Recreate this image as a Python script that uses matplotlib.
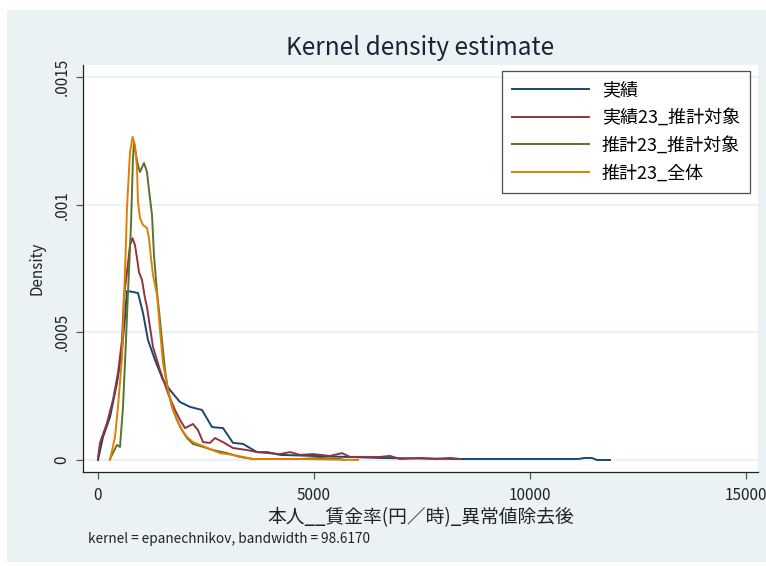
import matplotlib
matplotlib.use("Agg")
import matplotlib.pyplot as plt
from matplotlib.patches import Rectangle

plt.rcParams['font.family'] = ['Noto Sans CJK JP', 'DejaVu Sans']

BG = "#eaf2f3"
NAVY = "#1a476f"
MAROON = "#90353b"
GREEN = "#55752f"
ORANGE = "#e37e00"

# kernel density curves
x_jisseki = [0, 116, 278, 440, 556, 625, 671, 810, 926, 1042, 1157, 1319, 1505, 1667,
             1898, 2130, 2407, 2639, 2894, 3125, 3356, 3681, 3912, 4213, 4977, 5764,
             6528, 8380, 11111, 11273, 11435, 11551, 11852]
y_jisseki = [0.0, 0.000090, 0.000168, 0.000302, 0.000431, 0.000560, 0.000662, 0.000658,
             0.000654, 0.000576, 0.000470, 0.000392, 0.000313, 0.000274, 0.000227,
             0.000208, 0.000196, 0.000129, 0.000125, 0.000067, 0.000063, 0.000031,
             0.000031, 0.000020, 0.000016, 0.000012, 0.000008, 0.000004, 0.000004,
             0.000008, 0.000008, 0.0, 0.0]

x_j23 = [0, 46, 208, 347, 463, 556, 602, 671, 741, 799, 856, 903, 949, 1019, 1088, 1134,
         1273, 1435, 1620, 1782, 1898, 2014, 2199, 2315, 2431, 2593, 2708, 2894, 3125,
         3449, 3681, 4213, 4444, 4676, 4977, 5370, 5648, 5833, 6528, 6759, 6991, 7454,
         7801, 8148, 8380]
y_j23 = [0.000008, 0.000067, 0.000145, 0.000235, 0.000341, 0.000470, 0.000640, 0.000736,
         0.000842, 0.000869, 0.000842, 0.000791, 0.000736, 0.000705, 0.000634, 0.000599,
         0.000443, 0.000352, 0.000262, 0.000196, 0.000157, 0.000125, 0.000141, 0.000117,
         0.000070, 0.000067, 0.000086, 0.000070, 0.000047, 0.000039, 0.000031, 0.000023,
         0.000031, 0.000020, 0.000023, 0.000016, 0.000027, 0.000012, 0.000012, 0.000016,
         0.000004, 0.000008, 0.000004, 0.000008, 0.000004]

x_s23 = [278, 440, 509, 579, 648, 694, 764, 810, 833, 880, 926, 972, 1065, 1134, 1181,
         1250, 1296, 1366, 1435, 1481, 1551, 1620, 1713, 1829, 1944, 2060, 2199, 2361,
         2662, 2986, 3287, 3588, 4676, 5139, 5602, 5717]
y_s23 = [0.000004, 0.000059, 0.000051, 0.000208, 0.000470, 0.000654, 0.000920, 0.001183,
         0.001241, 0.001195, 0.001155, 0.001128, 0.001163, 0.001128, 0.001057, 0.000960,
         0.000803, 0.000658, 0.000548, 0.000470, 0.000352, 0.000274, 0.000208, 0.000157,
         0.000117, 0.000086, 0.000063, 0.000055, 0.000039, 0.000027, 0.000012, 0.000004,
         0.000004, 0.000008, 0.000004, 0.0]

x_all = [278, 394, 463, 556, 602, 648, 671, 741, 803, 856, 903, 926, 972, 1042, 1134,
         1181, 1227, 1273, 1366, 1435, 1505, 1620, 1736, 1898, 2060, 2199, 2361, 2824,
         3125, 3588, 4676, 6018]
y_all = [0.0, 0.000090, 0.000208, 0.000403, 0.000627, 0.000854, 0.000987, 0.001206,
         0.001265, 0.001234, 0.001144, 0.001010, 0.000948, 0.000920, 0.000909, 0.000869,
         0.000791, 0.000725, 0.000646, 0.000509, 0.000380, 0.000274, 0.000196, 0.000129,
         0.000090, 0.000070, 0.000059, 0.000027, 0.000020, 0.000004, 0.000004, 0.0]

series = [
    ("実績", x_jisseki, y_jisseki, NAVY),
    ("実績23_推計対象", x_j23, y_j23, MAROON),
    ("推計23_推計対象", x_s23, y_s23, GREEN),
    ("推計23_全体", x_all, y_all, ORANGE),
]

xticks = [0, 5000, 10000, 15000]
yticks = [0, 0.0005, 0.001, 0.0015]
ytick_labels = ["0", ".0005", ".001", ".0015"]

fig = plt.figure(figsize=(7.66, 5.66), dpi=100)
fig.patch.set_facecolor("white")
fig.patches.append(Rectangle((7 / 766, 4 / 566), 1 - 7 / 766, 552 / 566,
                             transform=fig.transFigure, facecolor=BG,
                             edgecolor="none", zorder=-10))

ax = fig.add_axes([83 / 766, 1 - 472 / 566, 675 / 766, 407 / 566])
ax.set_facecolor("white")

for label, xs, ys, color in series:
    ax.plot(xs, ys, color=color, linewidth=1.4, label=label, zorder=3)

ax.set_xlim(-347, 15278)
ax.set_ylim(-0.000047, 0.001547)
ax.set_xticks(xticks)
ax.set_xticklabels([str(v) for v in xticks])
ax.set_yticks(yticks)
ax.set_yticklabels(ytick_labels, rotation=90, va="center")
ax.grid(axis="y", color=BG, linewidth=1.6, zorder=1)
ax.grid(axis="x", visible=False)

for side in ["top", "right"]:
    ax.spines[side].set_visible(False)
for side in ["left", "bottom"]:
    ax.spines[side].set_color("#222222")
    ax.spines[side].set_linewidth(0.9)
ax.tick_params(axis="both", direction="out", length=5, width=0.9,
               color="#555555", labelsize=11, labelcolor="#222222")
ax.tick_params(axis="x", pad=6)
ax.tick_params(axis="y", pad=4)

ax.set_ylabel("Density", fontsize=11, color="#222222")
ax.yaxis.set_label_coords(-0.055, 0.5)
ax.set_xlabel("本人__賃金率(円／時)_異常値除去後", fontsize=13.5, color="#222222", labelpad=2)

fig.text(420 / 766, 1 - 48 / 566, "Kernel density estimate", fontsize=17.5,
         color="#1a2436", ha="center", va="center")
fig.text(88 / 766, 1 - 539 / 566, "kernel = epanechnikov, bandwidth = 98.6170",
         fontsize=9.8, color="#222222", ha="left", va="center")

leg = ax.legend(loc="upper right", bbox_to_anchor=((750 - 83) / 675, (472 - 71) / 407),
                borderaxespad=0, frameon=True, fancybox=False, fontsize=13,
                handlelength=4.3, handletextpad=0.7, labelspacing=0.55,
                borderpad=0.55)
leg.get_frame().set_edgecolor("#222222")
leg.get_frame().set_linewidth(0.9)

fig.savefig("out.png", dpi=100, facecolor="white")
